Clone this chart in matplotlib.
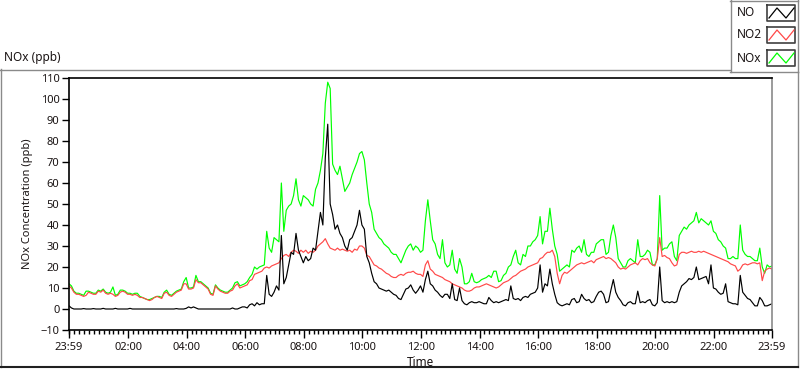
import numpy as np
import matplotlib
matplotlib.use("Agg")
from matplotlib import pyplot as plt
from matplotlib.lines import Line2D
from matplotlib.ticker import FixedLocator

plt.rcParams['font.family'] = ['Noto Sans', 'DejaVu Sans']

# Samples every 5 minutes, counted from 23:59 of the previous day
sample_minutes = np.arange(0, 1441, 5)

no_ppb = [
    1.5, 0.5, 0, 0, 0, 0, 0.2, 0, 0, 0, 0.2, 0,
    0, 0, 0.3, 0, 0, 0, 0, 0.3, 0, 0, 0, 0,
    0, 0.3, 0, 0, 0, 0, 0, 0, 0, 0, 0, 0,
    0, 0, 0, 0, 0, 0, 0, 0, 0.2, 0, 0, 0,
    0.3, 1, 0.5, 1, 0.5, 0, 0, 0, 0, 0, 0, 0,
    0, 0, 0, 0, 0, 0, 0, 0.5, 0, 0, 0.5, 1,
    1, 0.5, 2, 2.5, 1.5, 3, 2, 2.5, 2.5, 16, 7, 6,
    8, 11, 9, 35, 12, 15, 21, 27, 26, 36, 28, 25,
    22, 25, 23, 24, 29, 28, 37, 46, 40, 72, 88, 50,
    45, 38, 40, 36, 34, 30, 28, 33, 34, 37, 40, 47,
    40, 38, 25, 22, 17, 13, 12, 10, 9.5, 9, 8.5, 9,
    8, 7, 6.5, 5, 4.5, 7, 9.5, 10, 11.5, 9, 7.5, 9,
    11, 8, 14, 18, 12, 11, 9, 8, 6.5, 5.5, 7, 7,
    5, 12, 4.5, 4, 10, 4, 2.5, 2, 3, 3.5, 3, 3,
    3.5, 3, 2.5, 2.5, 5.5, 4, 3, 3.5, 3, 3.5, 4, 4.5,
    4, 11, 5, 4.5, 5, 4, 5.5, 6, 5.5, 7, 7.5, 8,
    10, 21, 8, 12, 11, 19, 12, 7, 3, 2, 1.5, 2,
    2.5, 2, 4.5, 5, 3, 3.5, 7, 5, 4, 4.5, 3, 3.5,
    6, 8, 8.5, 7, 3, 3.5, 9, 14, 8, 5.5, 4, 2,
    1.5, 3, 3.5, 2.5, 2.5, 8.5, 3, 3.5, 3, 4, 4.5, 2,
    1.5, 3, 20, 4, 3, 3.5, 3, 3.5, 3, 3.5, 8, 11,
    12, 13, 14.5, 14, 15, 20, 14, 14.5, 15, 15.5, 12, 21,
    10, 9.5, 8, 7, 7.5, 12, 3.5, 3, 2.5, 2.5, 2, 16,
    8, 6.5, 5, 4.5, 3, 1.5, 1.5, 5.5, 4, 1.5, 1.5, 2,
    2.5,
]

no2_ppb = [
    11, 10, 8, 7, 7, 6.5, 6, 6.5, 8, 7.5, 7, 7,
    8.5, 8, 9, 7.5, 7, 7.5, 7, 6, 6.5, 8, 8.5, 8,
    7, 7, 6.5, 7, 6.5, 5.5, 5.5, 5, 4.5, 4, 4.5, 5.5,
    6, 5.5, 5, 7.5, 8, 6.5, 6, 7, 8, 8.5, 9, 12,
    12, 9.5, 9.5, 10, 14, 12.5, 12.5, 11.5, 10.5, 9.5, 7, 6.5,
    11, 9.5, 8.5, 8, 7.5, 7.5, 8.5, 9, 11, 12, 10, 10.5,
    11, 11.5, 13.5, 14, 16.5, 17, 17.5, 18, 19.5, 20, 19.5, 20.5,
    21, 21.5, 22, 24, 25.5, 26, 25, 27, 28, 27.5, 26.5, 28,
    27, 28, 26.5, 27.5, 27, 28, 30, 31, 32, 33.5, 31, 29,
    28.5, 28, 29, 28, 28.5, 28, 27.5, 28, 27, 28.5, 28, 30,
    30, 29, 25.5, 25, 23, 21, 20.5, 19.5, 19, 18, 17, 16.5,
    15.5, 15, 15, 16, 16.5, 16, 17, 17.5, 17.5, 18, 17, 16.5,
    16.5, 15.5, 21, 23, 19, 18, 16.5, 16, 15.5, 15, 14, 13.5,
    13, 12, 11.5, 11, 10.5, 10, 9, 8.5, 8.5, 9, 10, 10.5,
    10.5, 11, 11.5, 12, 11.5, 11, 10.5, 10, 10.5, 11.5, 12.5, 13,
    13.5, 14.5, 15.5, 16, 17, 18, 18.5, 19, 20, 20.5, 21, 21.5,
    22, 24, 24.5, 26, 27, 27, 28, 25, 17, 12, 16, 17.5,
    17, 18, 19, 20, 21, 21.5, 22, 21.5, 22, 22.5, 23, 22,
    23.5, 24, 24.5, 25, 24, 24.5, 24, 23, 22, 20, 19, 19.5,
    19, 20, 21, 21.5, 22, 21, 23, 24, 23.5, 24, 22, 21,
    20.5, 24, 34, 25, 25.5, 24.5, 24, 22, 20.5, 21, 26, 27,
    27, 26.5, 27, 27.5, 27, 27, 27.5, 27, 27.5, 27, 26.5, 26,
    25.5, 25, 24.5, 24, 23.5, 23, 22.5, 21.5, 21, 20.5, 18, 19,
    21, 21.5, 21, 21.5, 22, 22, 21.5, 22, 13.5, 18, 19, 19.5,
    19,
]

nox_ppb = [
    12, 11, 8.5, 7.5, 7.5, 7, 6.5, 8.5, 8.5, 8, 7.5, 7.5,
    9, 8.5, 9.5, 8, 7.5, 8, 10.5, 6.5, 7, 9, 9, 8.5,
    7.5, 7.5, 7, 7.5, 7.5, 6, 5.5, 5, 4.5, 4.5, 5, 5.5,
    6, 6, 5.5, 8, 9, 7, 6.5, 7.5, 8.5, 9, 9.5, 13,
    15, 10, 10, 10.5, 16, 13, 13, 12, 11, 10, 7.5, 7,
    11.5, 10, 9, 8.5, 8, 8, 9, 10, 12.5, 13, 11, 11.5,
    12, 13, 15, 16.5, 20, 19, 20, 20.5, 21, 37, 29, 27,
    34, 33, 32, 60, 37, 47, 49, 50, 54, 62, 52, 49,
    54, 53, 52, 50, 49, 57, 60, 66, 74, 98, 108, 105,
    69, 66, 64, 68, 62, 56, 58, 60, 64, 67, 70, 74,
    75, 71, 60, 50, 46, 38, 36, 34, 33, 31, 30, 29,
    27, 26, 26, 24, 22, 25, 28, 30, 31, 28, 30, 29,
    27, 28, 42, 52, 42, 33, 31, 26, 24, 33, 22, 20,
    21, 28, 19, 17, 24, 20, 12, 12, 13, 17, 13, 12.5,
    13, 14, 14.5, 15, 16, 15, 18, 18, 13, 13.5, 16, 17,
    20, 21, 25, 28, 22, 21, 26, 25, 30, 30, 32, 33,
    35, 44, 31, 37, 37, 48, 38, 30, 26, 18, 19, 20,
    21, 20, 28, 27, 29, 30, 27, 33, 26, 25, 27, 27,
    31, 32, 33, 33, 26, 27, 35, 40, 34, 24, 22, 20,
    20, 23, 24, 23, 22, 33, 25, 25, 26, 28, 27, 21,
    21, 24, 54, 28, 29, 29, 31, 32, 25, 23, 35, 37,
    39, 38, 40, 41, 42, 46, 41, 43, 42, 41, 40, 42,
    37, 36, 33, 32, 30, 29, 24, 24, 25, 24, 24, 40,
    28, 26, 25, 25, 24, 23, 23, 29, 20, 17, 21, 20,
    20.5,
]

series_names = ['NO', 'NO2', 'NOx']
series_colors = ['#000000', '#ff4848', '#00ff00']

tick_minutes = [0, 121, 241, 361, 481, 601, 721, 841, 961, 1081, 1201, 1321, 1440]
tick_labels = ['23:59', '02:00', '04:00', '06:00', '08:00', '10:00', '12:00',
               '14:00', '16:00', '18:00', '20:00', '22:00', '23:59']

W, H = 800, 369
TXT = '#1a1414'


def fx(x):
    return x / W


def fy(y):
    return 1 - y / H


def fig_line(fig, xs, ys, color, lw=1.0):
    fig.add_artist(Line2D([fx(v) for v in xs], [fy(v) for v in ys],
                          transform=fig.transFigure, color=color, lw=lw))


fig = plt.figure(figsize=(W / 100, H / 100), dpi=100)
ax = fig.add_axes([fx(69), fy(330), (772 - 69) / W, (330 - 78) / H])

# draw NOx first, NO last so black sits on top
values = [no_ppb, no2_ppb, nox_ppb]
for i in [2, 1, 0]:
    ax.plot(sample_minutes, values[i], color=series_colors[i], lw=0.85)

ax.set_xlim(0, 1440)
ax.set_ylim(-10, 110)
ax.set_yticks(np.arange(-10, 111, 10))
ax.set_xticks(tick_minutes)
ax.set_xticklabels(tick_labels)
minor = [m for m in range(1, 1440, 10) if m not in tick_minutes]
ax.xaxis.set_minor_locator(FixedLocator(minor))

ax.tick_params(axis='both', which='major', direction='out', length=5, width=1,
               labelsize=8, colors='black', labelcolor=TXT, pad=2)
ax.tick_params(axis='x', which='minor', direction='out', length=3, width=1,
               colors='black')
ax.tick_params(axis='x', which='major', length=6, pad=3)

for side in ['left', 'bottom', 'top']:
    ax.spines[side].set_color('black')
    ax.spines[side].set_linewidth(1.2)
ax.spines['right'].set_color('#8a8a8a')
ax.spines['right'].set_linewidth(1.2)

ax.set_ylabel('NOx Concentration (ppb)', fontsize=8, color=TXT, labelpad=5)
ax.set_xlabel('Time', fontsize=8.5, color=TXT, labelpad=2)

# outer graph frame
fig_line(fig, [0, 730], [69.5, 69.5], '#8a8a8a')
fig_line(fig, [0.5, 0.5], [69, 367], '#8a8a8a')
fig_line(fig, [797.5, 797.5], [72, 367], '#8a8a8a')
fig_line(fig, [0, 798], [367, 367], '#202020', lw=1.5)

fig.text(fx(4), fy(58), 'NOx (ppb)', fontsize=8.5, color=TXT, ha='left', va='center')

# legend box
fig_line(fig, [730.5, 730.5], [0, 72], '#8a8a8a')
fig_line(fig, [730, 798], [71.5, 71.5], '#8a8a8a')
fig_line(fig, [797.5, 797.5], [0, 72], '#8a8a8a')
fig_line(fig, [730, 798], [0.5, 0.5], '#8a8a8a')

box_tops = [5, 27, 50]
for name, color, top in zip(series_names, series_colors, box_tops):
    bot = top + 16
    fig.text(fx(737), fy(top + 8), name, fontsize=8.5, color=TXT, ha='left', va='center')
    fig_line(fig, [767, 795, 795, 767, 767], [top, top, bot, bot, top], '#404040', lw=1.2)
    fig_line(fig, [769, 777, 786, 794], [bot - 3, top + 3, bot - 3, top + 3], color, lw=0.9)

fig.savefig('out.png', dpi=100)
